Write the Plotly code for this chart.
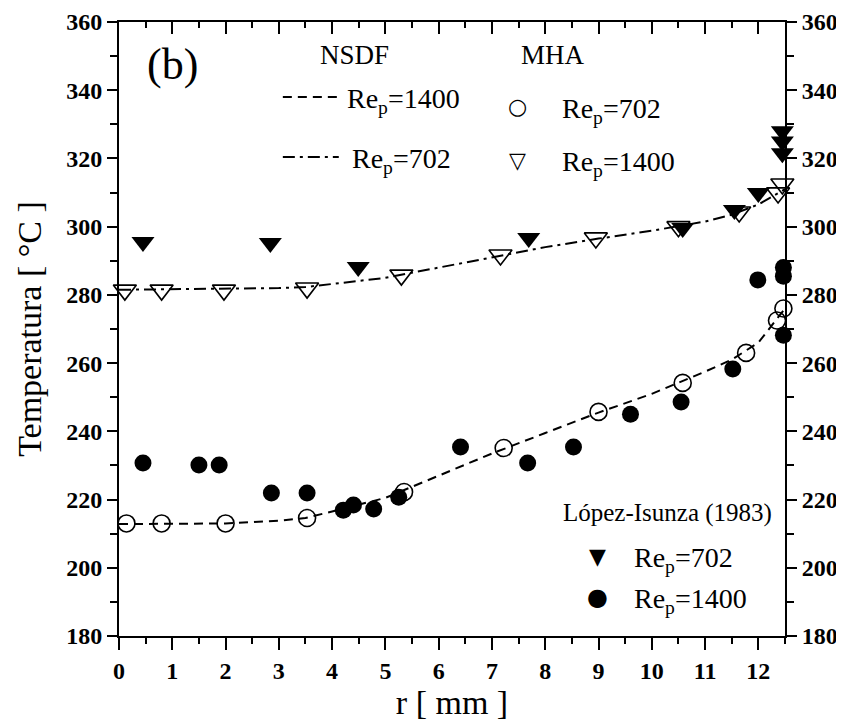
import plotly.graph_objects as go

# ---------------- data ----------------
# NSDF model curves
r_nsdf = [0, 1, 2, 3, 3.5, 4, 5, 6, 7, 8, 9, 10, 11, 11.5, 12, 12.5]
T_nsdf_1400 = [212.8, 212.8, 213.0, 213.8, 214.6, 216.5, 220.5, 227.0, 233.5, 239.5,
               245.5, 251.0, 257.5, 261.0, 266.0, 276.0]
T_nsdf_702 = [281.5, 281.6, 281.7, 282.0, 282.3, 283.2, 285.0, 288.0, 291.0, 294.0,
              296.5, 298.8, 301.5, 303.5, 306.5, 311.0]

# MHA points
r_mha_702 = [0.14, 0.8, 2.0, 3.53, 5.35, 7.22, 9.0, 10.58, 11.77, 12.35, 12.47]
T_mha_702 = [213.0, 213.0, 213.0, 214.6, 222.2, 235.1, 245.7, 254.2, 263.0, 272.5, 276.0]
r_mha_1400 = [0.11, 0.8, 1.97, 3.53, 5.3, 7.16, 8.95, 10.5, 11.64, 12.37, 12.45]
T_mha_1400 = [281.4, 281.4, 281.4, 282.0, 285.8, 291.7, 296.7, 300.0, 304.3, 309.9, 312.5]

# López-Isunza (1983) experimental
r_li_702 = [0.45, 2.84, 4.49, 7.69, 10.58, 11.55, 12.0, 12.45, 12.45, 12.45]
T_li_702 = [295.5, 295.2, 288.2, 296.7, 299.6, 304.9, 309.9, 328.0, 325.0, 321.5]
r_li_1400 = [0.45, 1.5, 1.88, 2.86, 3.53, 4.21, 4.4, 4.78, 5.25, 6.41, 7.67, 8.53,
             9.6, 10.55, 11.52, 11.99, 12.47, 12.47, 12.47]
T_li_1400 = [230.7, 230.1, 230.1, 221.9, 221.9, 216.9, 218.4, 217.2, 220.7, 235.4,
             230.7, 235.4, 245.0, 248.6, 258.3, 284.4, 288.0, 285.5, 268.2]

x_ticks = list(range(0, 13))
y_ticks = list(range(180, 361, 20))
x_range = [0, 12.5]
y_range = [180, 360]

# ---------------- figure ----------------
SERIF = "'Liberation Serif', 'Times New Roman', Times, serif"
fig = go.Figure()

fig.add_trace(go.Scatter(x=r_nsdf, y=T_nsdf_1400, mode="lines",
                         line=dict(color="black", width=2, dash="9px,6px"),
                         showlegend=False, cliponaxis=False))
fig.add_trace(go.Scatter(x=r_nsdf, y=T_nsdf_702, mode="lines",
                         line=dict(color="black", width=2, dash="12px,5px,3px,5px"),
                         showlegend=False, cliponaxis=False))
fig.add_trace(go.Scatter(x=r_li_702, y=T_li_702, mode="markers",
                         marker=dict(symbol="triangle-down", size=20, color="black"),
                         showlegend=False, cliponaxis=False))
fig.add_trace(go.Scatter(x=r_li_1400, y=T_li_1400, mode="markers",
                         marker=dict(symbol="circle", size=17, color="black"),
                         showlegend=False, cliponaxis=False))
fig.add_trace(go.Scatter(x=r_mha_1400, y=T_mha_1400, mode="markers",
                         marker=dict(symbol="triangle-down-open", size=20, color="black",
                                     line=dict(width=1.6, color="black")),
                         showlegend=False, cliponaxis=False))
fig.add_trace(go.Scatter(x=r_mha_702, y=T_mha_702, mode="markers",
                         marker=dict(symbol="circle-open", size=17, color="black",
                                     line=dict(width=1.6, color="black")),
                         showlegend=False, cliponaxis=False))
# invisible trace to activate mirrored axes
fig.add_trace(go.Scatter(x=[None], y=[None], xaxis="x2", yaxis="y2",
                         showlegend=False, hoverinfo="skip"))

tickfont = dict(family=SERIF, size=24, color="black", weight="bold")
title_font = dict(family=SERIF, size=34, color="black")

# page body has an 8px margin, margins compensate for it
fig.update_layout(
    width=844, height=721,
    margin=dict(l=111, r=67, t=14, b=93, autoexpand=False),
    paper_bgcolor="white", plot_bgcolor="white",
    xaxis=dict(range=x_range, tickvals=x_ticks, automargin=False,
               ticks="outside", ticklen=12, tickwidth=2, tickcolor="black",
               minor=dict(dtick=0.5, tick0=0, ticks="outside", ticklen=6, tickwidth=2, tickcolor="black"),
               showline=True, linecolor="black", linewidth=2, showgrid=False, zeroline=False,
               tickfont=tickfont, title=dict(text="r [ mm ]", font=title_font, standoff=2)),
    xaxis2=dict(range=x_range, overlaying="x", side="top", tickvals=x_ticks, automargin=False,
                ticks="inside", ticklen=12, tickwidth=2, tickcolor="black",
                minor=dict(dtick=0.5, tick0=0, ticks="inside", ticklen=6, tickwidth=2, tickcolor="black"),
                showline=True, linecolor="black", linewidth=2, showgrid=False, zeroline=False,
                showticklabels=False),
    yaxis=dict(range=y_range, tickvals=y_ticks, automargin=False,
               ticks="outside", ticklen=10, tickwidth=2, tickcolor="black",
               minor=dict(dtick=10, tick0=180, ticks="outside", ticklen=7, tickwidth=2, tickcolor="black"),
               showline=True, linecolor="black", linewidth=2, showgrid=False, zeroline=False,
               tickfont=tickfont, title=dict(text="Temperatura [ °C ]", font=title_font, standoff=14)),
    yaxis2=dict(range=y_range, overlaying="y", side="right", anchor="x", tickvals=y_ticks,
                automargin=False,
                ticks="outside", ticklen=10, tickwidth=2, tickcolor="black",
                minor=dict(dtick=10, tick0=180, ticks="outside", ticklen=7, tickwidth=2, tickcolor="black"),
                showline=True, linecolor="black", linewidth=2, showgrid=False, zeroline=False,
                tickfont=tickfont),
)

leg_font = dict(family=SERIF, size=28, color="black")
sym_font = dict(family="DejaVu Sans", size=22, color="black")
ann = []
ann.append(dict(x=0.080, y=0.930, text="(b)", font=dict(family=SERIF, size=44, color="black")))
ann.append(dict(x=0.354, y=0.946, text="NSDF", font=dict(family=SERIF, size=27, color="black")))
ann.append(dict(x=0.652, y=0.946, text="MHA", font=dict(family=SERIF, size=27, color="black")))
ann.append(dict(x=0.339, y=0.872, text="Re<sub>p</sub>=1400", font=leg_font, xanchor="left"))
ann.append(dict(x=0.347, y=0.774, text="Re<sub>p</sub>=702", font=leg_font, xanchor="left"))
ann.append(dict(x=0.598, y=0.862, text="○", font=sym_font))
ann.append(dict(x=0.662, y=0.856, text="Re<sub>p</sub>=702", font=leg_font, xanchor="left"))
ann.append(dict(x=0.598, y=0.775, text="▽", font=sym_font))
ann.append(dict(x=0.662, y=0.769, text="Re<sub>p</sub>=1400", font=leg_font, xanchor="left"))
ann.append(dict(x=0.823, y=0.200, text="López-Isunza (1983)", font=dict(family=SERIF, size=25, color="black")))
ann.append(dict(x=0.718, y=0.130, text="▼", font=sym_font))
ann.append(dict(x=0.770, y=0.124, text="Re<sub>p</sub>=702", font=leg_font, xanchor="left"))
ann.append(dict(x=0.718, y=0.064, text="●", font=dict(family="DejaVu Sans", size=24, color="black")))
ann.append(dict(x=0.770, y=0.058, text="Re<sub>p</sub>=1400", font=leg_font, xanchor="left"))
for a in ann:
    a.setdefault("xanchor", "center")
    a.update(xref="paper", yref="paper", yanchor="middle", showarrow=False)
fig.update_layout(annotations=ann)

fig.add_shape(type="line", xref="paper", yref="paper", x0=0.246, x1=0.332, y0=0.878, y1=0.878,
              line=dict(color="black", width=2, dash="9px,6px"))
fig.add_shape(type="line", xref="paper", yref="paper", x0=0.246, x1=0.330, y0=0.780, y1=0.780,
              line=dict(color="black", width=2, dash="12px,5px,3px,5px"))

fig.write_html("out.html")
